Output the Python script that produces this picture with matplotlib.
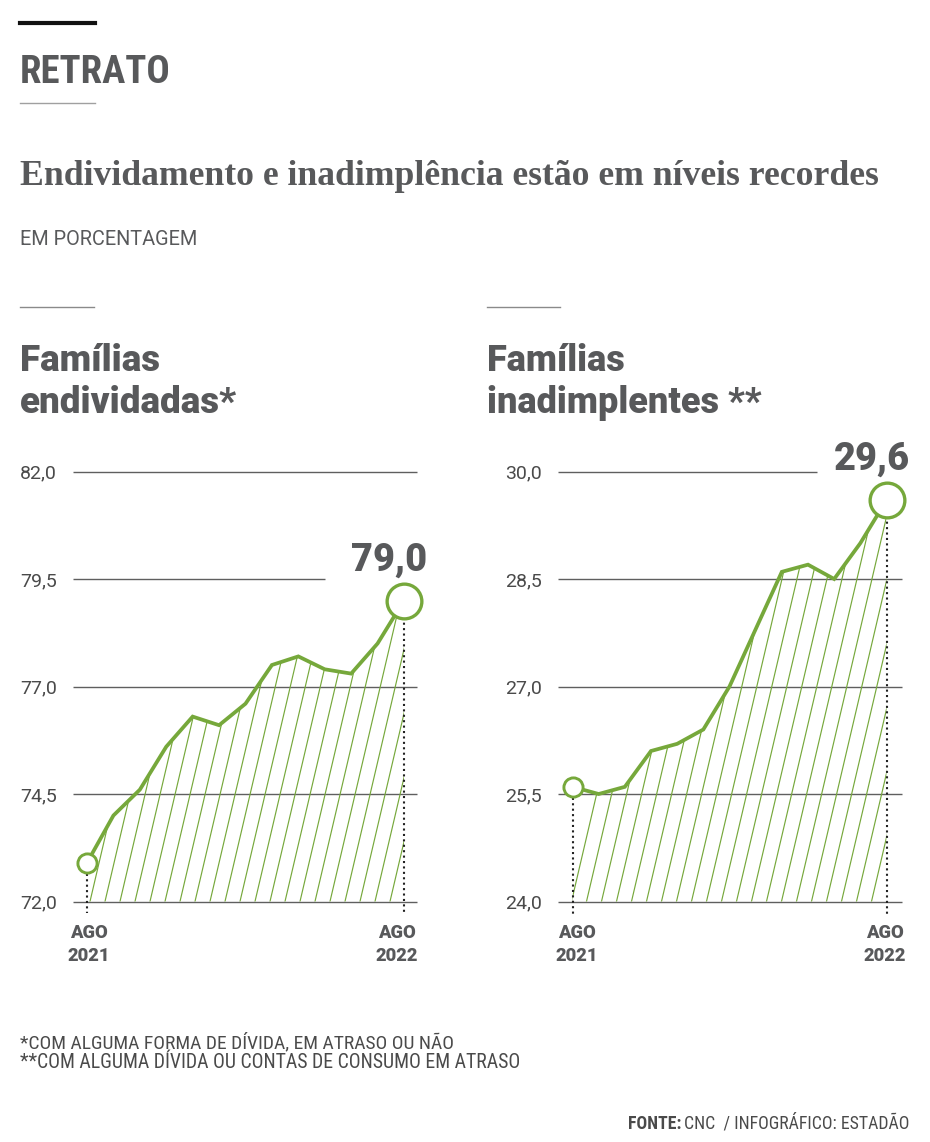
"""
Recria o infográfico "Endividamento e inadimplência estão em níveis recordes"
(Estadão / CNC) e grava out.png.
"""
import os

import numpy as np
import matplotlib
matplotlib.use("Agg")
import matplotlib.pyplot as plt
from matplotlib import font_manager
from matplotlib.font_manager import FontProperties
from matplotlib.lines import Line2D
from matplotlib.patches import Polygon

# ── dados (ago/2021 a ago/2022) ─────────────────────────────────────────
MESES = ["AGO 2021", "SET", "OUT", "NOV", "DEZ", "JAN 2022", "FEV", "MAR",
         "ABR", "MAI", "JUN", "JUL", "AGO 2022"]
ENDIVIDADAS = [72.9, 74.0, 74.6, 75.6, 76.3, 76.1, 76.6, 77.5, 77.7, 77.4,
               77.3, 78.0, 79.0]
INADIMPLENTES = [25.6, 25.5, 25.6, 26.1, 26.2, 26.4, 27.0, 27.8, 28.6, 28.7,
                 28.5, 29.0, 29.6]
TICKS_END = [72.0, 74.5, 77.0, 79.5, 82.0]
TICKS_INAD = [24.0, 25.5, 27.0, 28.5, 30.0]
ROTULOS_X = [("AGO", "2021"), ("AGO", "2022")]

W, H, DPI = 930, 1142, 100
GREEN = "#76a83b"
GREY = "#58595b"
GRID = "#5f5f5f"


def _find(names):
    files = {os.path.basename(f.fname).lower(): f.fname
             for f in font_manager.fontManager.ttflist}
    for n in names:
        for ext in (".ttf", ".otf"):
            if (n + ext).lower() in files:
                return FontProperties(fname=files[(n + ext).lower()])
    return None


COND_BOLD = _find(["RobotoCondensed-Black", "RobotoCondensed-ExtraBold",
                   "RobotoCondensed-Bold", "NotoSans-CondensedBlack",
                   "NotoSans-CondensedBold", "LiberationSansNarrow-Bold",
                   "DejaVuSansCondensed-Bold", "OpenSans-CondensedBold"]) \
    or FontProperties(family="Roboto", weight="bold")
COND_REG = _find(["RobotoCondensed-Regular", "NotoSans-Condensed",
                  "NotoSans-CondensedRegular", "LiberationSansNarrow-Regular",
                  "LiberationSansNarrow", "DejaVuSansCondensed",
                  "OpenSans-CondensedRegular"]) \
    or FontProperties(family="Roboto")
HEAVY = 900   # Roboto Black quando instalada, senão a mais pesada disponível

plt.rcParams["font.family"] = ["Roboto", "DejaVu Sans"]

fig = plt.figure(figsize=(W / DPI, H / DPI), dpi=DPI)
renderer = fig.canvas.get_renderer()


def fx(px):
    return px / W


def fy(py):
    return 1 - py / H


def fit_width(t, target):
    w = t.get_window_extent(renderer).width
    t.set_fontsize(t.get_fontsize() * target / w)
    return t


def ftext(px, py, s, fp=None, size=12, **kw):
    kw.setdefault("color", GREY)
    kw.setdefault("va", "baseline")
    if fp is not None:
        fp = fp.copy()
        fp.set_size(size)
        return fig.text(fx(px), fy(py), s, fontproperties=fp, **kw)
    return fig.text(fx(px), fy(py), s, fontsize=size, **kw)


def hrule(x0, x1, y, color, lw):
    fig.add_artist(Line2D([fx(x0), fx(x1)], [fy(y), fy(y)],
                          transform=fig.transFigure, color=color, lw=lw))


# ── cabeçalho ───────────────────────────────────────────────────────────
hrule(20, 95, 23.3, "#111111", 3.0)
fit_width(ftext(20, 82.7, "RETRATO", COND_BOLD, 30), 150)
hrule(20, 95, 102.7, "#a0a0a0", 1.0)
fit_width(ftext(20, 185, "Endividamento e inadimplência estão em níveis recordes",
                size=23, family="Liberation Serif", fontweight="bold"), 860)
fit_width(ftext(20, 245, "EM PORCENTAGEM", size=12), 177)

# ── painéis ─────────────────────────────────────────────────────────────
PANELS = [
    dict(values=ENDIVIDADAS, ticks=TICKS_END, left=73, right=417,
         x0=87, x12=404, short=79.5, short_end=325, hatch_off=3,
         title=("Famílias", "endividadas*"), title_x=20, title_w=140,
         rule=(20, 94), lab_dx=(2, -7)),
    dict(values=INADIMPLENTES, ticks=TICKS_INAD, left=558, right=902,
         x0=572.5, x12=886.5, short=30.0, short_end=817, hatch_off=-1,
         title=("Famílias", "inadimplentes **"), title_x=487, title_w=138,
         rule=(487, 560), lab_dx=(4, -2)),
]
TOP, BOTTOM = 471.5, 901.5

for p in PANELS:
    vals = np.array(p["values"])
    ticks = p["ticks"]
    ymin, ymax = ticks[0], ticks[-1]
    n = len(vals)
    xs = np.arange(n)

    hrule(p["rule"][0], p["rule"][1], 306.7, "#8a8a8a", 1.0)
    t1 = fit_width(ftext(p["title_x"], 371, p["title"][0], size=26,
                         fontweight=HEAVY), p["title_w"])
    ftext(p["title_x"], 413, p["title"][1], size=t1.get_fontsize(),
          fontweight=HEAVY)

    ax = fig.add_axes([fx(p["left"]), fy(BOTTOM), (p["right"] - p["left"]) / W,
                       (BOTTOM - TOP) / H])
    ppm = (p["x12"] - p["x0"]) / (n - 1)
    ppu = (BOTTOM - TOP) / (ymax - ymin)
    xlo = (p["left"] - p["x0"]) / ppm
    xhi = (n - 1) + (p["right"] - p["x12"]) / ppm
    ax.set_xlim(xlo, xhi)
    ax.set_ylim(ymin, ymax)
    for s in ax.spines.values():
        s.set_visible(False)
    ax.set_xticks([])
    ax.set_yticks(ticks)
    ax.set_yticklabels([f"{t:.1f}".replace(".", ",") for t in ticks])
    ax.tick_params(axis="y", length=0, pad=11.5, labelsize=14,
                   labelcolor="#4a4a4a")
    ax.patch.set_alpha(0)

    for t in ticks:
        xend = (p["short_end"] - p["x0"]) / ppm if t == p["short"] else xhi
        ax.plot([xlo, xend], [t, t], color=GRID, lw=1.0, zorder=1,
                clip_on=False, solid_capstyle="butt")

    # área hachurada sob a curva
    verts = list(zip(xs, vals)) + [(xs[-1], ymin), (xs[0], ymin)]
    clip = Polygon(verts, closed=True, transform=ax.transData,
                   facecolor="none", edgecolor="none")
    ax.add_patch(clip)
    xb = (np.arange(p["x0"] + p["hatch_off"], p["x12"], 15.0) - p["x0"]) / ppm
    xt = xb + 0.234 * (ymax - ymin) * ppu / ppm
    for a, b in zip(xb, xt):
        ln, = ax.plot([a, b], [ymin, ymax], color=GREEN, lw=0.85, zorder=2)
        ln.set_clip_path(clip)

    # linhas pontilhadas nas pontas
    ybelow = ymin - 12 / ppu
    for i in (0, n - 1):
        ax.plot([xs[i], xs[i]], [vals[i], ybelow], color="#222222", lw=1.5,
                linestyle=(0, (1, 1.6)), zorder=3, clip_on=False)

    ax.plot(xs, vals, color=GREEN, lw=2.7, zorder=4, clip_on=False,
            solid_joinstyle="miter")
    ax.plot([xs[0]], [vals[0]], "o", ms=13.8, mfc="white", mec=GREEN,
            mew=2.1, zorder=5, clip_on=False)
    ax.plot([xs[-1]], [vals[-1]], "o", ms=25, mfc="white", mec=GREEN,
            mew=2.4, zorder=5, clip_on=False)

    lbl = ax.annotate(f"{vals[-1]:.1f}".replace(".", ","), xy=(xs[-1], vals[-1]),
                      xytext=(23, 30), textcoords="offset pixels", ha="right",
                      va="baseline", fontsize=28, fontweight=HEAVY, color=GREY,
                      annotation_clip=False)
    fit_width(lbl, 76)

    for (l1, l2), i, dx in zip(ROTULOS_X, (0, n - 1), p["lab_dx"]):
        for txt, dy in ((l1, -36.5), (l2, -59.5)):
            ax.annotate(txt, xy=(xs[i], ymin), xytext=(dx, dy),
                        textcoords="offset pixels", ha="center", va="baseline",
                        fontsize=13.2, fontweight=HEAVY, color=GREY,
                        annotation_clip=False)

# ── notas e fonte ───────────────────────────────────────────────────────
fit_width(ftext(20, 1048.4, "*COM ALGUMA FORMA DE DÍVIDA, EM ATRASO OU NÃO",
                COND_REG, 14, color="#4a4a4a"), 435)
fit_width(ftext(20, 1068.4, "**COM ALGUMA DÍVIDA OU CONTAS DE CONSUMO EM ATRASO",
                COND_REG, 14, color="#4a4a4a"), 502)

src = fit_width(ftext(909, 1129, "CNC  / INFOGRÁFICO: ESTADÃO", COND_REG, 14,
                      ha="right", color="#4a4a4a"), 226)
bb = src.get_window_extent(renderer)
fte = ftext(bb.x0 - 2, 1129, "FONTE:", COND_BOLD, src.get_fontsize(),
            ha="right", color="#4a4a4a")

fig.savefig("out.png", dpi=DPI)
